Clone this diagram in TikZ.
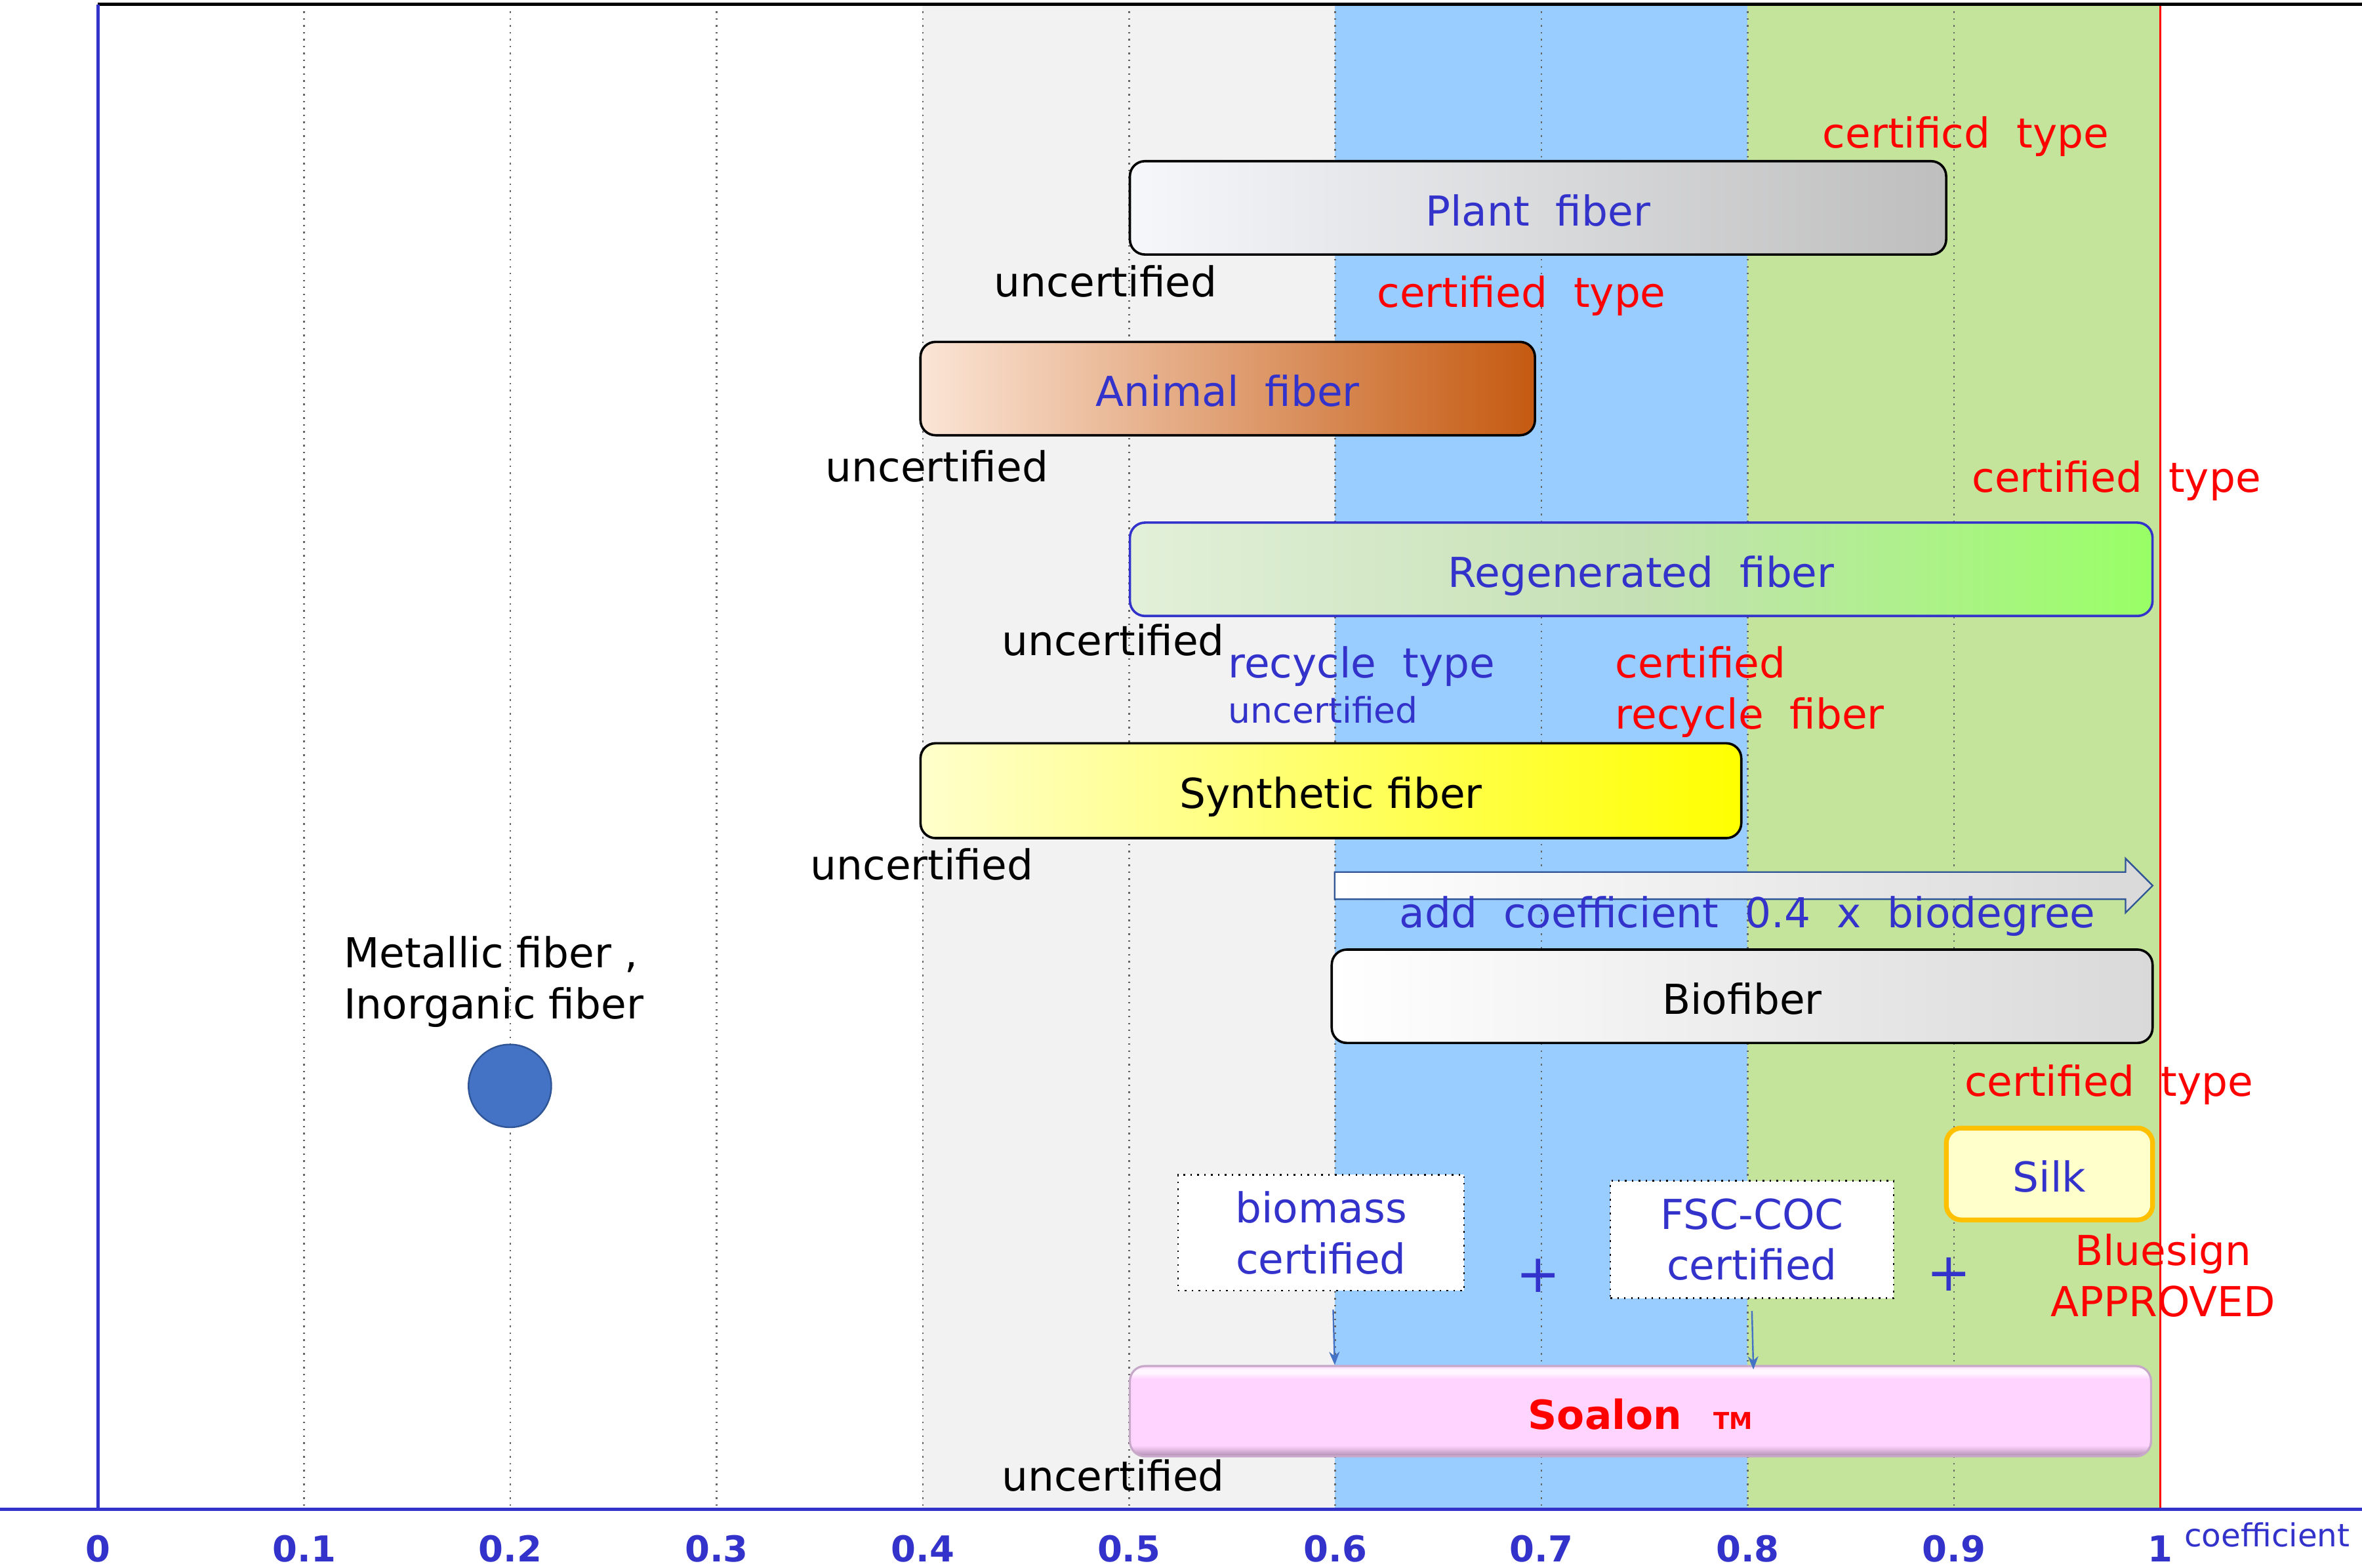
\documentclass[tikz,border=0pt]{standalone}
\usepackage{fontspec}
\setmainfont{DejaVu Sans}
\usetikzlibrary{arrows.meta}
\definecolor{tblue}{HTML}{3333CC}
\definecolor{bandgray}{HTML}{F2F2F2}
\definecolor{bandblue}{HTML}{99CCFF}
\definecolor{bandgreen}{HTML}{C4E39B}
\definecolor{plantA}{HTML}{F5F7FB}
\definecolor{plantB}{HTML}{BEBEBE}
\definecolor{animA}{HTML}{FBE5D6}
\definecolor{animB}{HTML}{C55A11}
\definecolor{regA}{HTML}{E2F0D9}
\definecolor{regB}{HTML}{C5E0B4}
\definecolor{regC}{HTML}{99FF66}
\definecolor{synA}{HTML}{FFFFCC}
\definecolor{synB}{HTML}{FFFF00}
\definecolor{bioB}{HTML}{D9D9D9}
\definecolor{silkB}{HTML}{FFC000}
\definecolor{dotfill}{HTML}{4472C4}
\definecolor{dotline}{HTML}{2F5597}
\definecolor{soP}{HTML}{FFD5FF}
\definecolor{soH}{HTML}{FFF6FF}
\definecolor{soD}{HTML}{B08CB0}
\definecolor{soB}{HTML}{C8A8C8}
\pgfdeclarehorizontalshading{regenshade}{100bp}{color(0bp)=(regA); color(25bp)=(regA); color(50bp)=(regB); color(75bp)=(regC); color(100bp)=(regC)}
\pgfdeclareverticalshading{soalonshade}{100bp}{color(0bp)=(soD); color(25bp)=(soD); color(31bp)=(soP); color(68bp)=(soP); color(71bp)=(soH); color(73bp)=(soH); color(75bp)=(soP); color(100bp)=(soP)}
\newcommand{\fsMain}{\fontsize{15.6}{19.3}\selectfont}
\newcommand{\fsSmall}{\fontsize{13.3}{16}\selectfont}
\newcommand{\fsTick}{\fontsize{13.5}{16}\selectfont\bfseries}
\tikzset{
  fiberbox/.style={rounded corners=0.2cm, draw=black, line width=0.9pt, minimum height=1.24cm, inner sep=0pt, font=\fsMain, text height=13.5pt, text depth=0pt},
  certbox/.style={draw=black, dotted, line width=0.6pt, fill=white, inner sep=0pt, font=\fsMain, text=tblue, align=center},
  lbl/.style={inner sep=0pt, font=\fsMain, anchor=base},
  gridln/.style={draw=black!60, dotted, line width=0.6pt},
  conn/.style={draw=dotfill, line width=0.6pt, -{Stealth[length=5pt,width=4pt]}},
  tick/.style={inner sep=0pt, font=\fsTick, text=tblue, anchor=base}
}
\begin{document}
\begin{tikzpicture}[x=0.02cm,y=-0.02cm]
\useasboundingbox (0,0) rectangle (1568,1041);
% bands
\fill[bandgray] (612,3) rectangle (886,1002);
\fill[bandblue] (886,3) rectangle (1160,1002);
\fill[bandgreen] (1160,3) rectangle (1434,1002);
% grid
\foreach \v in {1,...,9} \draw[gridln] ({65+\v*136.9},3) -- ({65+\v*136.9},1002);
\draw[red, line width=0.6pt] (1434,3) -- (1434,1002);
% frame and axes
\draw[black, line width=1.2pt] (65,3) -- (1568,3);
\draw[tblue, line width=1.2pt] (65,3) -- (65,1002);
\draw[tblue, line width=1.3pt] (0,1002) -- (1568,1002);
\foreach \v/\t in {0/0,1/0.1,2/0.2,3/0.3,4/0.4,5/0.5,6/0.6,7/0.7,8/0.8,9/0.9,10/1}
  \node[tick] (t\v) at ({65+\v*136.9},1037) {\t};
\node[inner sep=0pt, font=\fontsize{12}{14}\selectfont, text=tblue, anchor=base] (coef) at (1505,1027) {coefficient};
% Plant fiber
\node[fiberbox, left color=plantA, right color=plantB, minimum width=10.84cm, text=tblue] (plant) at (1021,138) {Plant~~fiber};
\node[lbl, text=red] (cert1) at (1305,98) {certificd~~type};
\node[lbl] (unc1) at (734,197) {uncertified};
\node[lbl, text=red] (cert2) at (1010,204) {certified~~type};
% Animal fiber
\node[fiberbox, left color=animA, right color=animB, minimum width=8.16cm, text=tblue] (animal) at (815,258) {Animal~~fiber};
\node[lbl] (unc2) at (622,320) {uncertified};
\node[lbl, text=red] (cert3) at (1405,327) {certified~~type};
% Regenerated fiber
\node[fiberbox, draw=tblue, shading=regenshade, minimum width=13.58cm, text=tblue] (regen) at (1089.5,378) {Regenerated~~fiber};
\node[lbl] (unc3) at (739,435) {uncertified};
\node[lbl, anchor=base west, text=tblue] (rec1) at (815,450) {recycle~~type};
\node[inner sep=0pt, anchor=base west, font=\fsSmall, text=tblue] (rec2) at (815,480) {uncertified};
\node[lbl, anchor=base west, text=red] (rc1) at (1072,450) {certified};
\node[lbl, anchor=base west, text=red] (rc2) at (1072,484) {recycle~~fiber};
% Synthetic fiber
\node[fiberbox, left color=synA, right color=synB, minimum width=10.9cm, minimum height=1.26cm] (synth) at (883.5,525) {Synthetic fiber};
\node[lbl] (unc4) at (612,584) {uncertified};
% coefficient arrow
\draw[draw=dotline, line width=0.6pt, left color=white, right color=bioB]
  (886,579) -- (1411,579) -- (1411,570) -- (1429,588) -- (1411,606) -- (1411,597) -- (886,597) -- cycle;
\node[lbl, text=tblue] (addc) at (1160,616) {add~~coefficient~~0.4~~x~~biodegree};
% Biofiber
\node[fiberbox, left color=white, right color=bioB, minimum width=10.9cm] (bio) at (1156.5,661.5) {Biofiber};
% Metallic
\node[lbl, anchor=west, align=left] (metal) at (228,652) {Metallic fiber ,\\Inorganic fiber};
\node[circle, fill=dotfill, draw=dotline, line width=0.6pt, minimum size=1.1cm, inner sep=0pt] (metaldot) at (338.5,721) {};
% Silk
\node[lbl, text=red] (cert4) at (1400,728) {certified~~type};
\node[fiberbox, draw=silkB, line width=1.8pt, fill=synA, minimum width=2.74cm, minimum height=1.22cm, text=tblue] (silk) at (1360.5,779.5) {Silk};
\node[lbl, anchor=center, align=center, text=red] (bluesign) at (1436,847) {Bluesign\\APPROVED};
% certificates
\node[certbox, minimum width=3.8cm, minimum height=1.54cm] (biomass) at (877,818.5) {biomass\\certified};
\node[certbox, minimum width=3.76cm, minimum height=1.56cm] (fsc) at (1163,823) {FSC-COC\\certified};
\node[inner sep=0pt, font=\fontsize{20}{24}\selectfont, text=tblue] (plus1) at (1021,847) {+};
\node[inner sep=0pt, font=\fontsize{20}{24}\selectfont, text=tblue] (plus2) at (1294,846) {+};
% Soalon
\node[fiberbox, draw=soB, line width=0.8pt, shading=soalonshade, minimum width=13.56cm, minimum height=1.2cm, text=red] (soalon) at (1089,937)
  {{\fontsize{15.2}{18}\selectfont\bfseries Soalon}\hspace{0.42cm}{\fontsize{8.8}{10}\selectfont\bfseries TM}};
\node[lbl] (unc5) at (739,990) {uncertified};
% connectors
\draw[conn] ([xshift=0.16cm,yshift=-0.24cm]biomass.south) -- ([xshift=-4.06cm]soalon.north);
\draw[conn] ([yshift=-0.16cm]fsc.south) -- ([xshift=1.5cm,yshift=-0.06cm]soalon.north);
\end{tikzpicture}
\end{document}
